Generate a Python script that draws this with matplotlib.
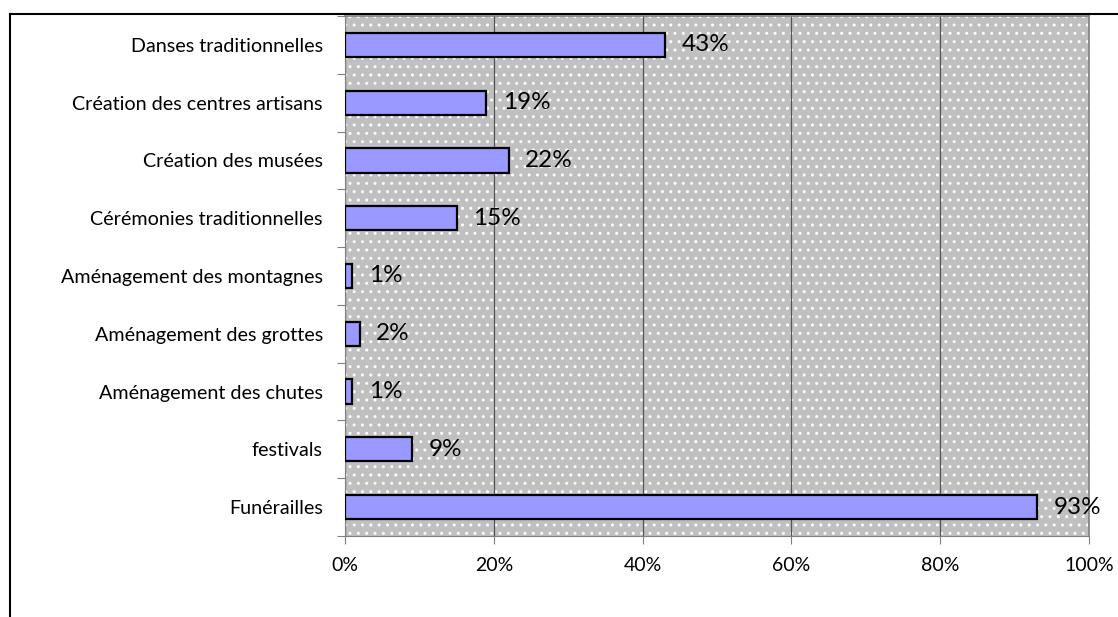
import matplotlib
matplotlib.use("Agg")
import matplotlib.pyplot as plt
from matplotlib.patches import Rectangle
from matplotlib.lines import Line2D
from matplotlib.ticker import FixedLocator, NullFormatter

# ── data ─────────────────────────────────────────────────────────────────────
categories = ["Danses traditionnelles", "Création des centres artisans",
              "Création des musées", "Cérémonies traditionnelles",
              "Aménagement des montagnes", "Aménagement des grottes",
              "Aménagement des chutes", "festivals", "Funérailles"]
values = [43, 19, 22, 15, 1, 2, 1, 9, 93]
x_ticks = [0, 20, 40, 60, 80, 100]
x_labels = ["0%", "20%", "40%", "60%", "80%", "100%"]

plt.rcParams["font.family"] = ["Lato", "DejaVu Sans"]

fig = plt.figure(figsize=(11.18, 6.17), dpi=100)
ax = fig.add_axes([345 / 1118, 1 - 536 / 617, 744 / 1118, 520 / 617])

# dotted grey plot area
ax.patch.set_visible(False)
ax.add_patch(Rectangle((0, 0), 1, 1, transform=ax.transAxes, facecolor="#c0c0c0",
                       edgecolor="white", hatch="..", linewidth=0, zorder=0))

n = len(categories)
ypos = list(range(n))[::-1]
ax.barh(ypos, values, height=0.42, color="#9999ff", edgecolor="black",
        linewidth=1.6, zorder=3)
for y, v in zip(ypos, values):
    ax.text(v + 2.2, y, f"{v}%", va="center", ha="left", fontsize=17.5, zorder=4)

ax.set_xlim(0, 100)
ax.set_ylim(-0.5, n - 0.5)
ax.set_xticks(x_ticks)
ax.set_xticklabels(x_labels, fontsize=14)
ax.set_yticks(ypos)
ax.set_yticklabels(categories, fontsize=14.2)
ax.tick_params(axis="y", length=0, pad=16)
ax.yaxis.set_minor_locator(FixedLocator([i - 0.5 for i in range(n + 1)]))
ax.yaxis.set_minor_formatter(NullFormatter())
ax.tick_params(axis="y", which="minor", length=6, width=0.8, color="#808080")
ax.tick_params(axis="x", length=6, width=0.8, color="#808080", pad=9)

ax.grid(axis="x", color="#555555", linewidth=0.9, zorder=1)
for s in ["top", "right"]:
    ax.spines[s].set_color("#808080")
    ax.spines[s].set_linewidth(1.2)
ax.spines["left"].set_color("#808080")
ax.spines["bottom"].set_color("#808080")

# outer frame lines (left and top)
fig.add_artist(Line2D([9.5 / 1118, 9.5 / 1118], [0, 1 - 14 / 617], color="black", lw=1.5))
fig.add_artist(Line2D([9.5 / 1118, 1], [1 - 14 / 617, 1 - 14 / 617], color="black", lw=1.5))

fig.savefig("out.png", dpi=100)
